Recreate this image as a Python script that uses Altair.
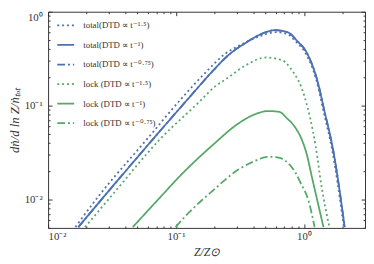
import altair as alt
import pandas as pd

# ---- series labels ----
series = [
    "total(DTD ∝ t⁻¹·⁵)",
    "total(DTD ∝ t⁻¹)",
    "total(DTD ∝ t⁻⁰·⁷⁵)",
    "lock (DTD ∝ t⁻¹·⁵)",
    "lock (DTD ∝ t⁻¹)",
    "lock (DTD ∝ t⁻⁰·⁷⁵)",
]
colors = ["#4C72B0", "#4C72B0", "#4C72B0", "#55A868", "#55A868", "#55A868"]
dashes = [[2, 3], [1, 0], [8, 3, 2, 3], [2, 3], [1, 0], [8, 3, 2, 3]]

# ---- values (Z/Zsun, dn/dlnZ / n_tot) ----
total_15_z = [0.01633, 0.0253, 0.0575, 0.114, 0.174, 0.2377, 0.332, 0.455, 0.601, 0.743, 0.869, 1.035, 1.26, 1.42, 1.66, 2.05]
total_15_y = [0.0051, 0.01127, 0.0419, 0.1254, 0.233, 0.350, 0.455, 0.551, 0.606, 0.578, 0.477, 0.358, 0.1795, 0.0877, 0.0338, 0.0051]

total_1_z = [0.01722, 0.0281, 0.0640, 0.129, 0.193, 0.2596, 0.350, 0.462, 0.591, 0.743, 0.885, 1.05, 1.28, 1.445, 1.69, 2.08]
total_1_y = [0.0051, 0.01127, 0.0419, 0.1254, 0.233, 0.350, 0.466, 0.578, 0.636, 0.606, 0.489, 0.367, 0.1795, 0.0877, 0.0338, 0.0051]

total_075_z = [0.01722, 0.0281, 0.0640, 0.129, 0.193, 0.2596, 0.350, 0.462, 0.591, 0.743, 0.885, 1.05, 1.28, 1.445, 1.69, 2.08]
total_075_y = [0.0051, 0.01127, 0.0419, 0.1254, 0.233, 0.350, 0.466, 0.578, 0.636, 0.606, 0.489, 0.367, 0.1795, 0.0877, 0.0338, 0.0051]

lock_15_z = [0.01945, 0.0318, 0.0762, 0.1535, 0.193, 0.2596, 0.350, 0.505, 0.681, 0.783, 1.02, 1.233, 1.37, 1.58]
lock_15_y = [0.0051, 0.01127, 0.0450, 0.1114, 0.152, 0.202, 0.269, 0.326, 0.303, 0.2506, 0.1196, 0.0372, 0.01396, 0.0051]

lock_1_z = [0.0459, 0.0762, 0.108, 0.193, 0.309, 0.4027, 0.524, 0.646, 0.730, 0.855, 0.966, 1.054, 1.15, 1.277, 1.42]
lock_1_y = [0.0051, 0.0108, 0.0180, 0.0380, 0.0650, 0.0797, 0.0877, 0.0857, 0.0742, 0.0585, 0.0429, 0.0300, 0.0177, 0.00953, 0.0051]

lock_075_z = [0.0991, 0.1245, 0.193, 0.309, 0.4027, 0.524, 0.646, 0.743, 0.855, 0.933, 1.09, 1.21]
lock_075_y = [0.0051, 0.00716, 0.0124, 0.0210, 0.0254, 0.0286, 0.0279, 0.0248, 0.0195, 0.0154, 0.00953, 0.0051]

# ---- axis ticks ----
major_ticks = [0.01, 0.1, 1]
x_minor = [0.02, 0.03, 0.04, 0.05, 0.06, 0.07, 0.08, 0.09, 0.2, 0.3, 0.4, 0.5, 0.6, 0.7, 0.8, 0.9, 2, 3]
y_minor = [0.005, 0.006, 0.007, 0.008, 0.009, 0.02, 0.03, 0.04, 0.05, 0.06, 0.07, 0.08, 0.09,
           0.2, 0.3, 0.4, 0.5, 0.6, 0.7, 0.8, 0.9]

zs = [total_15_z, total_1_z, total_075_z, lock_15_z, lock_1_z, lock_075_z]
ys = [total_15_y, total_1_y, total_075_y, lock_15_y, lock_1_y, lock_075_y]
rows = []
for name, zz, yy in zip(series, zs, ys):
    for z, v in zip(zz, yy):
        rows.append({"series": name, "Z": z, "y": v})
df = pd.DataFrame(rows)

FONT = "Liberation Serif"
TXT = "#333333"
label_expr = "datum.value < 0.05 ? '10⁻²' : datum.value < 0.5 ? '10⁻¹' : '10⁰'"

xscale = alt.Scale(type="log", domain=[0.01, 3], nice=False)
yscale = alt.Scale(type="log", domain=[0.005, 1], nice=False)

leg = dict(title=None, orient="none", legendX=8, legendY=4,
           symbolType="stroke", symbolSize=300, symbolStrokeWidth=1.8,
           labelFont=FONT, labelFontSize=9, labelColor=TXT,
           labelOffset=8, rowPadding=5)

lines = alt.Chart(df).mark_line(strokeWidth=1.8, clip=True, interpolate="monotone").encode(
    x=alt.X("Z:Q", scale=xscale,
            axis=alt.Axis(values=major_ticks, labelExpr=label_expr, orient="bottom",
                          tickSize=4, offset=-4, domain=False, grid=False,
                          labelPadding=3, labelFontSize=11, labelFont=FONT, labelColor=TXT,
                          tickColor=TXT, title="Z/Z⊙", titleFont=FONT, titleFontSize=12,
                          titleFontStyle="italic", titleFontWeight="normal", titleColor=TXT,
                          titlePadding=5)),
    y=alt.Y("y:Q", scale=yscale,
            axis=alt.Axis(values=major_ticks, labelExpr=label_expr, orient="left",
                          tickSize=4, offset=-4, domain=False, grid=False,
                          labelPadding=6, labelFontSize=11, labelFont=FONT, labelColor=TXT,
                          labelFlush=True, tickColor=TXT,
                          title="dṅ/d ln Z/ṅₜₒₜ", titleFont=FONT, titleFontSize=13,
                          titleFontStyle="italic", titleFontWeight="normal", titleColor=TXT,
                          titlePadding=3)),
    color=alt.Color("series:N", scale=alt.Scale(domain=series, range=colors),
                    legend=alt.Legend(**leg)),
    strokeDash=alt.StrokeDash("series:N", scale=alt.Scale(domain=series, range=dashes),
                              legend=alt.Legend(**leg)),
    order="Z:Q",
)


def tick_layer(xo, yo, xvals, yvals, size):
    return alt.Chart(df).mark_point(opacity=0).encode(
        x=alt.X("Z:Q", scale=xscale,
                axis=alt.Axis(values=xvals, orient=xo, tickSize=size, offset=-size,
                              labels=False, domain=False, grid=False, title=None,
                              tickColor=TXT)),
        y=alt.Y("y:Q", scale=yscale,
                axis=alt.Axis(values=yvals, orient=yo, tickSize=size, offset=-size,
                              labels=False, domain=False, grid=False, title=None,
                              tickColor=TXT)),
    )


chart = alt.layer(
    lines,
    tick_layer("bottom", "left", x_minor, y_minor, 2),
    tick_layer("top", "right", major_ticks, major_ticks, 4),
    tick_layer("top", "right", x_minor, y_minor, 2),
).resolve_axis(x="independent", y="independent").properties(
    width=324, height=221,
    padding={"left": 0, "top": 0, "right": 0, "bottom": 0},
).configure_view(stroke=TXT, strokeWidth=1)

chart.save("out.html", embed_options={"renderer": "svg", "actions": False})
